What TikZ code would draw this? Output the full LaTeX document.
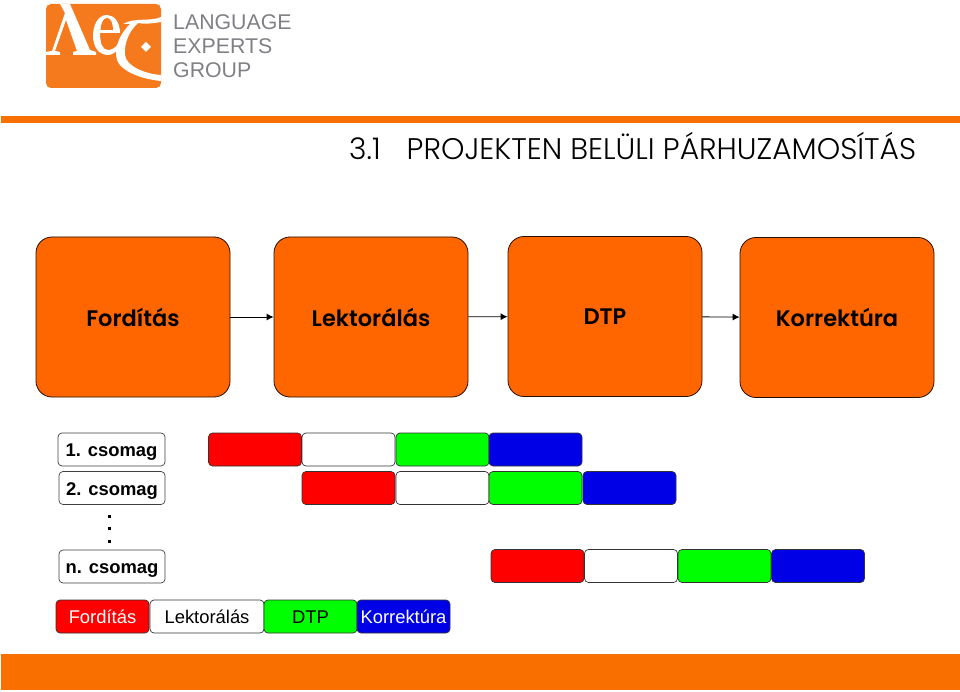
\documentclass[tikz,border=0pt]{standalone}
\usepackage{fontspec}
\setmainfont{Liberation Sans}
\newfontfamily\gothicfont{Poppins SemiBold}
\newfontfamily\titlefont{Poppins Light}
\usepackage{xcolor}
\usetikzlibrary{positioning, arrows.meta}
\definecolor{barorange}{HTML}{F97000}
\definecolor{boxorange}{HTML}{FF6600}
\definecolor{logoorange}{HTML}{F57A1E}
\definecolor{logogray}{HTML}{7F8085}
\definecolor{phasegreen}{HTML}{00FF00}
\definecolor{phaseblue}{HTML}{0000E6}
\tikzset{
  mainbox/.style={draw=black!85!boxorange, fill=boxorange, rounded corners=16pt, line width=0.8pt,
    minimum width=194pt, minimum height=160pt, inner sep=0pt,
    font=\gothicfont\fontsize{22.5}{24}\selectfont},
  packbox/.style={draw=black!75, fill=white, rounded corners=4pt, line width=0.7pt,
    minimum width=107pt, minimum height=33pt, inner sep=0pt, text height=16pt, text depth=2pt,
    font=\fontsize{18.4}{20}\selectfont\bfseries},
  phasebox/.style={draw=black!80, rounded corners=4pt, line width=0.7pt,
    minimum width=93pt, minimum height=33pt, inner sep=0pt, text height=15pt, text depth=2pt,
    font=\fontsize{18.4}{20}\selectfont},
  logotext/.style={text=logogray, anchor=west, inner sep=0pt, font=\fontsize{21.3}{24}\selectfont},
  steparrow/.style={-{Latex[length=7pt,width=7pt]}, line width=0.9pt},
}
\begin{document}
\begin{tikzpicture}[x=1pt,y=-1pt]
        \useasboundingbox (0,0) rectangle (960,692);
        % Logo
        \fill[logoorange, rounded corners=5pt] (46,4) rectangle (161,88);
        \fill[white] (45,52) -- (52,51) -- (65,13) -- (60,4) -- (70,4) -- (90,50) -- (96,52) -- (96,55)
          -- (73,55) -- (73,52) -- (77,51) -- (66,20) -- (55,51) -- (60,52) -- (60,55) -- (45,55) -- cycle;
        \fill[white] (120,33) .. controls (120,22) and (114,15) .. (107,15) .. controls (98,15) and (93,25) .. (93,36)
          .. controls (93,47) and (99,55) .. (108,55) .. controls (113,55) and (118,51) .. (120,45) -- (118,44)
          .. controls (115,48) and (112,50) .. (108,50) .. controls (102,50) and (100,42) .. (100,33) -- cycle;
        \fill[logoorange] (100.5,30) .. controls (101,22) and (104,18) .. (107,18) .. controls (111,18) and (113,24) .. (113,30) -- cycle;
        \fill[white] (123,24) .. controls (135,17) and (150,22) .. (161,17) -- (161,22)
          .. controls (150,24) and (143,24) .. (138,23) .. controls (128,32) and (124,45) .. (125,55)
          .. controls (126,66) and (145,74) .. (161,75) -- (161,81) .. controls (140,79) and (116,70) .. (116,55)
          .. controls (116,42) and (122,32) .. (130,24) -- cycle;
        \fill[white] (146,42) -- (151,47) -- (146,52) -- (141,47) -- cycle;
        \node[logotext] (logoa) at (173,22) {LANGUAGE};
        \node[logotext] (logob) at (173,46) {EXPERTS};
        \node[logotext] (logoc) at (173,70) {GROUP};
        % Bars
        \fill[barorange] (1,116) rectangle (960,123);
        \fill[barorange] (1,654) rectangle (960,690);
        % Title
        \node[anchor=base west, inner sep=0pt, font=\titlefont\fontsize{29.8}{32}\selectfont] (title) at (349,160)
          {3.1\hspace{26pt}PROJEKTEN BELÜLI PÁRHUZAMOSÍTÁS};
        % Steps
        \node[mainbox] (ford) at (133,317) {Fordítás};
        \node[mainbox] (lekt) at (371,317) {Lektorálás};
        \node[mainbox] (dtp) at (605,316.5) {DTP};
        \node[mainbox] (korr) at (837,317.5) {Korrektúra};
        \draw[steparrow] (ford) -- (lekt);
        \draw[steparrow] (lekt) -- (dtp);
        \draw[steparrow] (dtp) -- (korr);
        % Packages
        \node[packbox] (pack1) at (111.5,449.5) {1. csomag};
        \node[packbox, minimum width=106pt] (pack2) at (112,488) {2. csomag};
        \node[packbox, minimum width=106pt] (packn) at (112,566.5) {n. csomag};
        \foreach \y in {516,528,541}
          \fill (108,\y-1.5) rectangle (111,\y+1.5);
        % Schedule
        \foreach \row/\y/\xa/\xb/\xc/\xd in {a/449.5/255/348.5/442.5/535.5, b/488/348.5/442.5/535.5/629.5, c/566/537.5/631/724.5/818} {
          \node[phasebox, fill=red] (\row1) at (\xa,\y) {};
          \node[phasebox, fill=white] (\row2) at (\xb,\y) {};
          \node[phasebox, fill=phasegreen] (\row3) at (\xc,\y) {};
          \node[phasebox, fill=phaseblue] (\row4) at (\xd,\y) {};
        }
        % Legend
        \node[phasebox, fill=red, text=white] (legford) at (102.5,616.5) {Fordítás};
        \node[phasebox, fill=white, minimum width=114pt] (leglekt) at (207,616.5) {Lektorálás};
        \node[phasebox, fill=phasegreen] (legdtp) at (310.5,616.5) {DTP};
        \node[phasebox, fill=phaseblue, text=white] (legkorr) at (403.5,616.5) {Korrektúra};
\end{tikzpicture}
\end{document}
